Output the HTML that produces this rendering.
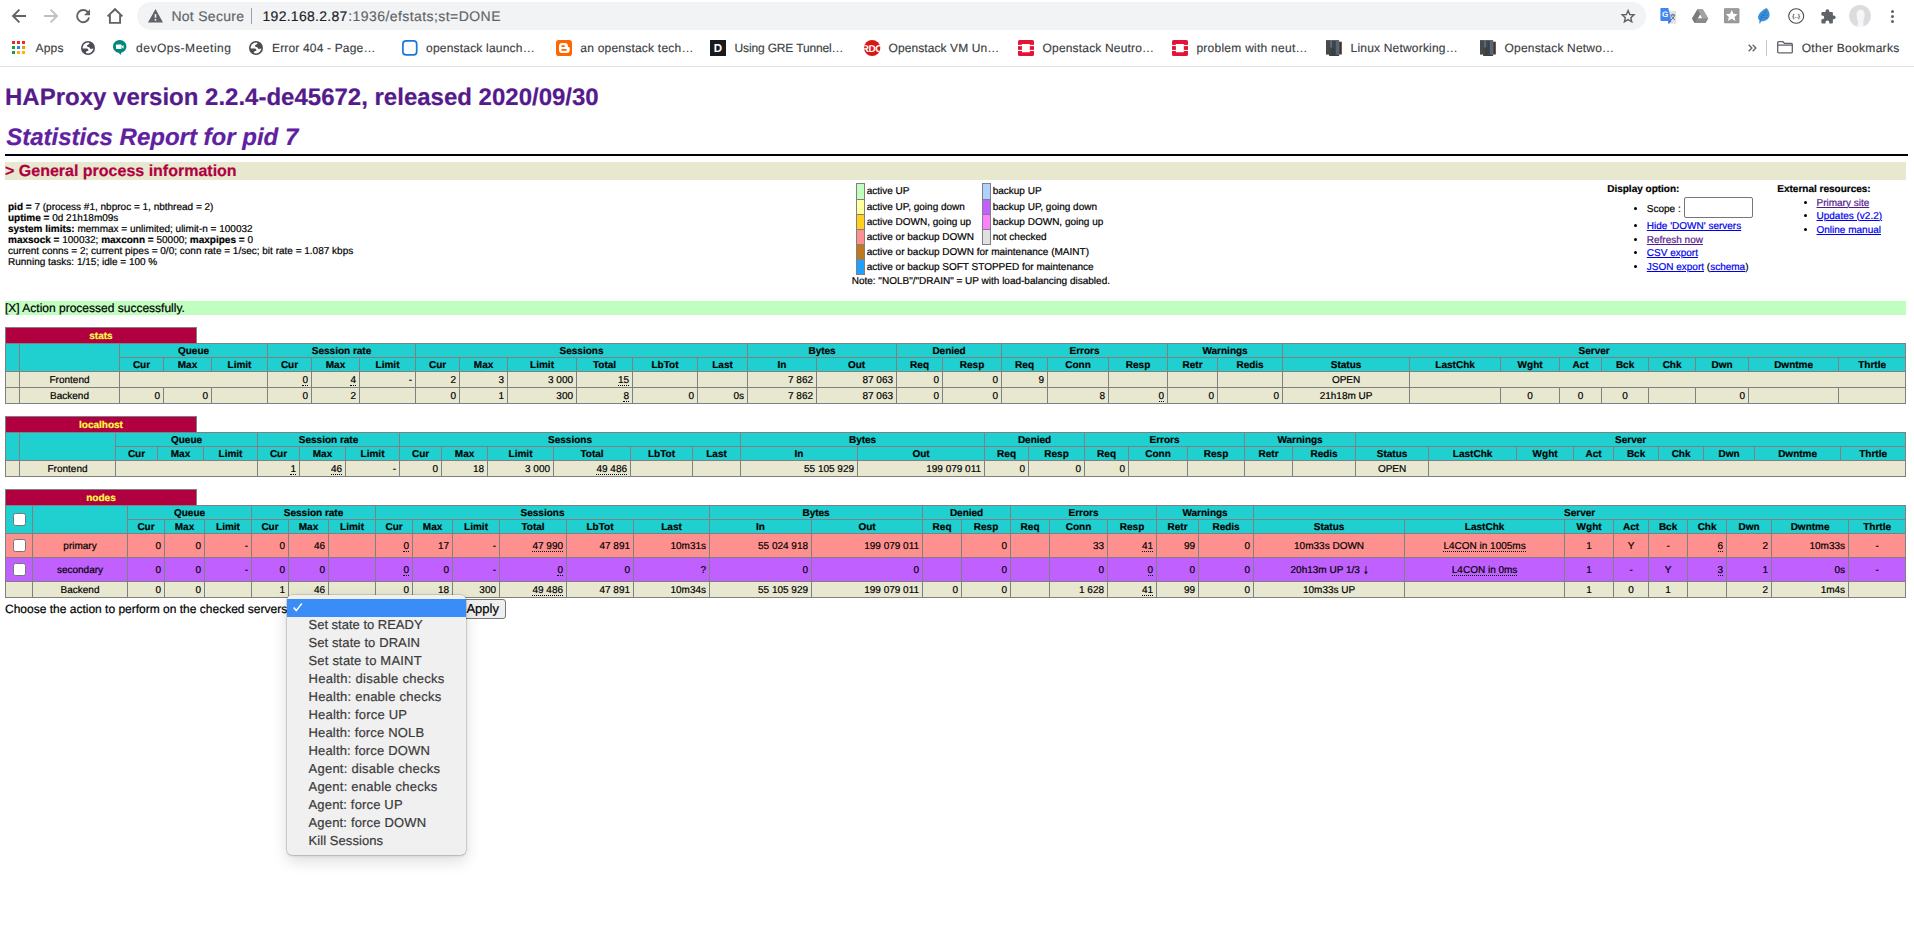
<!DOCTYPE html>
<html lang="en"><head><meta charset="utf-8"><title>Statistics Report for HAProxy</title>
<style>
html,body{margin:0;padding:0;background:#fff;}
body{font-family:'Liberation Sans',sans-serif;font-size:12px;color:#000;text-rendering:geometricPrecision;}
#root{position:relative;width:1914px;height:925px;overflow:hidden;background:#fff;-webkit-text-stroke:0.2px currentColor;}
.abs{position:absolute;white-space:pre;}
svg{position:absolute;display:block;overflow:visible;}
/* chrome */
#chrome{position:absolute;left:0;top:0;width:1914px;height:66px;background:#fff;border-bottom:1px solid #dfe1e5;}
#pill{position:absolute;left:137px;top:2px;width:1509px;height:28px;border-radius:14px;background:#f1f3f4;}
.bm{position:absolute;top:41px;height:14px;line-height:14px;font-size:12px;color:#3c4043;white-space:pre;-webkit-text-stroke:0.15px #3c4043;}
.url{position:absolute;top:8px;height:16px;line-height:16px;font-size:14px;white-space:pre;}
/* page */
h1,h2,h3{margin:0;padding:0;}
#h1{position:absolute;left:5px;top:84px;font-size:24px;line-height:28px;font-weight:bold;color:#551a8b;white-space:pre;}
#h2{position:absolute;left:6.2px;top:124px;font-size:24px;line-height:28px;font-weight:bold;font-style:italic;color:#6020a0;white-space:pre;}
#hr{position:absolute;left:5px;top:154px;width:1903px;height:2px;background:#000;}
#h3{position:absolute;left:5px;top:162px;width:1901px;height:18px;line-height:20px;font-size:16px;font-weight:bold;color:#b00040;background:#e8e8d0;white-space:pre;}
#info{position:absolute;left:8px;top:201.6px;font-size:10px;line-height:11px;white-space:pre;}
#done{position:absolute;left:5px;top:301px;width:1901px;height:14px;line-height:14px;font-size:12px;background:#c0ffc0;white-space:pre;}
a{color:#0000ee;text-decoration:underline;}
a.v{color:#551a8b;}
/* legend */
table.lgd{position:absolute;border-collapse:collapse;border-style:none;font-size:10px;}
table.lgd td{border:1px solid gray;padding:0;height:14px;line-height:11px;}
table.lgd td.sw{width:7px;}
table.lgd td.nb{border-style:none;padding:0 2px 1px 1.7px;white-space:nowrap;}
.small{font-size:10px;line-height:11px;position:absolute;white-space:pre;}
ul.opt{position:absolute;margin:0;padding:0;list-style:none;font-size:10px;}
ul.opt li{position:absolute;white-space:pre;line-height:11px;}
ul.opt li::before{content:"";position:absolute;left:-13px;top:3px;width:3.4px;height:3.4px;border-radius:50%;background:#000;}
#scope{position:absolute;left:1684px;top:197px;width:67px;height:19px;border:1px solid #767676;border-radius:2px;background:#fff;box-sizing:content-box;}
/* tables */
table.tbl{position:absolute;left:5px;width:1901px;border-collapse:collapse;border-style:none;table-layout:fixed;font-size:10px;}
table.tbl td,table.tbl th{border:1px solid gray;font-size:10px;line-height:11px;overflow:hidden;white-space:nowrap;}
table.tbl td{text-align:right;padding:2px 3px 0 3px;}
table.tbl td.ac{text-align:center;}
table.tbl th{padding:2px 0 0 0;text-align:center;font-weight:bold;}
tr.titre{background:#20d0d0;color:#000;}
tr.frontend,tr.backend{background:#e8e8d0;}
tr.active_down{background:#ff9090;}
tr.backup_going_down{background:#c060ff;}
.pxname{position:absolute;left:5px;width:190px;height:16px;border:1px solid gray;border-bottom:none;background:#b00040;color:#ffff40;font-weight:bold;font-size:10px;line-height:18px;text-align:center;}
u{text-decoration:none;position:relative;}
u::after{content:"";position:absolute;left:0;right:0;bottom:0;border-bottom:1px dotted #000;}
.cb{display:inline-block;width:11px;height:11px;border:1px solid #767676;border-radius:2.5px;background:#fff;vertical-align:middle;position:relative;top:-1px;}
/* popup */
#popup{position:absolute;left:287px;top:595px;width:179px;height:260px;background:#f0f0f0;border-radius:5px;box-shadow:0 0 0 0.5px rgba(0,0,0,.22),0 6px 16px rgba(0,0,0,.14),0 1px 3px rgba(0,0,0,.12);}
#popup .sel{position:absolute;left:0;top:4px;width:179px;height:18px;background:#3a8df6;}
#popup .it{position:absolute;left:21.5px;height:18px;line-height:18px;font-size:13px;color:#3a3a3a;white-space:pre;-webkit-text-stroke:0.2px #3a3a3a;}
#apply{position:absolute;left:461px;top:598.5px;width:43px;height:18px;border:1px solid #767676;border-radius:3px;background:#efefef;font-size:13px;line-height:17px;}
#choose{position:absolute;left:5px;top:602px;font-size:12px;line-height:14px;white-space:pre;}
.arr{font-family:"DejaVu Sans",sans-serif;font-size:11px;line-height:0;display:inline-block;width:5px;transform:scaleX(.62);transform-origin:0 50%;position:relative;top:1px;}

</style></head>
<body>
<div id="root">
<div id="chrome">
<div id="pill"></div>
<svg style="left:11px;top:8px" width="16" height="16" viewBox="0 0 16 16"><path d="M15 8H2.2M8.4 1.6L2 8l6.4 6.4" fill="none" stroke="#5f6368" stroke-width="1.9" stroke-linejoin="miter"/></svg>
<svg style="left:43px;top:8px" width="16" height="16" viewBox="0 0 16 16"><path d="M1 8h12.8M7.6 1.6L14 8l-6.4 6.4" fill="none" stroke="#bdc1c6" stroke-width="1.9"/></svg>
<svg style="left:75px;top:8px" width="16" height="16" viewBox="0 0 16 16"><path d="M13.2 4.6A6.1 6.1 0 1 0 14.1 9.6" fill="none" stroke="#5f6368" stroke-width="1.9"/><path d="M15 1.2v6H9z" fill="#5f6368"/></svg>
<svg style="left:107px;top:8px" width="16" height="16" viewBox="0 0 16 16"><path d="M0.6 8.4L8 1.2l7.4 7.2M2.9 7v7.9h10.2V7" fill="none" stroke="#5f6368" stroke-width="1.9" stroke-linejoin="miter"/></svg>
<svg style="left:147.5px;top:9px" width="15" height="13.4" viewBox="0 0 15 13.4"><path d="M7.5 0L15 13.4H0z" fill="#5f6368"/><rect x="6.7" y="5" width="1.6" height="3.8" fill="#f1f3f4"/><rect x="6.7" y="10" width="1.6" height="1.7" fill="#f1f3f4"/></svg>
<span class="url" style="left:171.4px;color:#5f6368;-webkit-text-stroke:0.15px #5f6368;letter-spacing:0.284px">Not Secure</span>
<div class="abs" style="left:251px;top:8px;width:1px;height:16px;background:#9aa0a6"></div>
<span class="url" style="left:262.5px;color:#202124;-webkit-text-stroke:0.15px #202124;letter-spacing:0.277px">192.168.2.87</span>
<span class="url" style="left:348.2px;color:#5f6368;-webkit-text-stroke:0.15px #5f6368;letter-spacing:0.436px">:1936/efstats;st=DONE</span>
<svg style="left:1620.800px;top:8.800px" width="14.200" height="13.600" viewBox="0 0 15 14.4"><path d="M7.5 1.6l1.8 4.2 4.5.4-3.4 3 1 4.4-3.9-2.4-3.9 2.4 1-4.4-3.4-3 4.5-.4z" fill="none" stroke="#5f6368" stroke-width="1.5" stroke-linejoin="miter"/></svg>
<svg style="left:1659.500px;top:8px" width="16.500" height="16" viewBox="0 0 16.500 16"><rect x="8" y="2.800" width="8.200" height="13" rx=".6" fill="#e1e3e6"/><path d="M10.600 7h4.600M12.900 5.800V7M11.300 7.200c.4 2 1.700 3.500 3.500 4.500M14.500 7.200c-.5 2.200-1.800 3.800-3.700 4.800" stroke="#4f6f86" stroke-width="1" fill="none"/><path d="M.4.800C.4.400.7 0 1.100 0h7.200l3.100 13H1.100c-.4 0-.7-.3-.7-.7z" fill="#4285f4"/><path d="M8.300 13h3.100l-3 3z" fill="#3457c4"/><text x="2.100" y="9.400" font-family="Liberation Sans, sans-serif" font-size="8" font-weight="bold" fill="#fff">G</text></svg>
<svg style="left:1691.700px;top:9px" width="16.300" height="14.300" viewBox="0 0 17 14.5"><path d="M5.800 0h5.400l5.800 9.800-2.700 4.700H2.700L0 9.800z" fill="#8a8a8a"/><path d="M5.800 0L0 9.800l2.700 4.700L8.500 4.700z" fill="#7b7b7b"/><path d="M11.200 0l5.800 9.800h-5.500L5.800 0z" fill="#a3a3a3"/><path d="M8.500 5.600l2.200 3.800H6.300z" fill="#fff"/></svg>
<svg style="left:1724px;top:8px" width="15.400" height="15.400" viewBox="0 0 16 15.6"><rect width="16" height="15.600" rx="1" fill="#8b8b8b"/><rect x=".5" y=".5" width="15" height="14.600" rx=".8" fill="#9b9b9b"/><path d="M8 1.800l1.800 4 4.300.4-3.200 2.900 1 4.200L8 11.100l-3.900 2.200 1-4.200L1.900 6.200l4.300-.4z" fill="#fff"/></svg>
<svg style="left:1757px;top:8px" width="13" height="16" viewBox="0 0 13 16"><path d="M9.500 0C11.500 1.500 13 5 12.600 7.600 12.200 10.500 9.500 13 6 13.200L4.300 13.300 3 15.400 2.100 15.100 2.700 12.700C.8 11.400.6 9 1.600 7 3 4 6.500 1.500 9.500 0z" fill="#3b90d8"/><path d="M9.300 2.300C6.500 5.500 4.300 9 3 13.200M9.600 4.300L7.400 5.200M10.700 6.900L6.100 7.500M10.300 9.600L4.800 9.800M4.600 5.800L6 7.400M3 8.400L4.700 9.900" stroke="#1d6db5" stroke-width=".7" fill="none" opacity=".8"/></svg>
<svg style="left:1788px;top:8px" width="16.400" height="16" viewBox="0 0 16.4 16"><ellipse cx="8.200" cy="8" rx="7.500" ry="7.300" fill="#fff" stroke="#4a4a4a" stroke-width="1.100"/><text x="8.200" y="10.100" text-anchor="middle" font-family="Liberation Sans, sans-serif" font-size="5.800" font-weight="bold" fill="#4a4a4a">{..}</text></svg>
<svg style="left:1820.500px;top:8.500px" width="15" height="15" viewBox="0 0 15 15"><path d="M1.400 3.100H4.500V2.200a1.900 1.900 0 0 1 3.800 0V3.100H10.900a1 1 0 0 1 1 1V6.400h.9a1.900 1.900 0 0 1 0 3.800h-.9V13.400a1 1 0 0 1-1 1H8.300v-.9a1.900 1.900 0 0 0-3.800 0v.9H1.400a1 1 0 0 1-1-1V10.200h.9a1.900 1.900 0 0 0 0-3.800H.4V4.100a1 1 0 0 1 1-1z" fill="#5f6368"/></svg>
<svg style="left:1849px;top:5px" width="22" height="22" viewBox="0 0 22 22"><circle cx="11" cy="11" r="10.900" fill="#dcdcdc"/><path d="M11.500 4.500c2.600 0 4.100 2 4.100 5.200 0 2.700-.9 4.800-1.300 6.600l.3 5.200c-1.100.4-2.300.5-3.600.5-1 0-1.900-.1-2.800-.4l.9-4.600c-.6-1.900-1.500-4.200-1.500-6.900 0-3.400 1.500-5.600 3.900-5.600z" fill="#f4f6f9"/></svg>
<div class="abs" style="left:1891px;top:10.0px;width:3px;height:3px;border-radius:50%;background:#5f6368"></div>
<div class="abs" style="left:1891px;top:15.0px;width:3px;height:3px;border-radius:50%;background:#5f6368"></div>
<div class="abs" style="left:1891px;top:20.0px;width:3px;height:3px;border-radius:50%;background:#5f6368"></div>
<svg style="left:12px;top:41px" width="13" height="13" viewBox="0 0 13 13"><rect x="0" y="0" width="3" height="3" fill="#ea2b22"/><rect x="5" y="0" width="3" height="3" fill="#ea2b22"/><rect x="10" y="0" width="3" height="3" fill="#ea2b22"/><rect x="0" y="5" width="3" height="3" fill="#1e9b42"/><rect x="5" y="5" width="3" height="3" fill="#2b84f3"/><rect x="10" y="5" width="3" height="3" fill="#f19c0b"/><rect x="0" y="10" width="3" height="3" fill="#1e9b42"/><rect x="5" y="10" width="3" height="3" fill="#fbb307"/><rect x="10" y="10" width="3" height="3" fill="#fbb307"/></svg>
<span class="bm" style="left:35.5px;letter-spacing:0.214px">Apps</span>
<svg style="left:81px;top:41px" width="14" height="14" viewBox="0 0 14 14"><defs><clipPath id="g81"><circle cx="7" cy="7" r="6.2"/></clipPath></defs><circle cx="7" cy="7" r="7" fill="#4a4d52"/><circle cx="7" cy="7" r="5.400" fill="#fff"/><g clip-path="url(#g81)" fill="#4a4d52"><path d="M5.900 5c.1-1 .8-1.300 1.500-1.500.8-.3 1-1 1.200-2.300l5 .5.400 5.300-2 .6c-.8.300-1.300.6-2.200.4-.8-.2-.6-1-1.300-1.500-.8-.5-1.700-.4-2.600-1.500z"/><path d="M0 7.500h5.600c.7 0 1.800.7 1.900 1.400.1.800-.8.900-1.400 1.200-.8.400-1 .9-1.200 1.500-.1.500-.1.900.1 1.400L0 13z"/></g></svg>
<svg style="left:113.400px;top:40.400px" width="13.400" height="15" viewBox="0 0 13.4 15"><path d="M6.700 0a6.500 6.500 0 0 1 6.700 6.400c0 3.400-2.600 5.900-5.300 6.300V15L5.200 12.600C2.300 12 0 9.600 0 6.400A6.500 6.500 0 0 1 6.700 0z" fill="#00897b"/><rect x="3" y="4.600" width="5.600" height="4.400" rx=".7" fill="#fff"/><path d="M8.800 6.400l1.800-1.500v3.800l-1.800-1.500z" fill="#fff"/></svg>
<span class="bm" style="left:136px;letter-spacing:0.535px">devOps-Meeting</span>
<svg style="left:249px;top:41px" width="14" height="14" viewBox="0 0 14 14"><defs><clipPath id="g249"><circle cx="7" cy="7" r="6.2"/></clipPath></defs><circle cx="7" cy="7" r="7" fill="#4a4d52"/><circle cx="7" cy="7" r="5.400" fill="#fff"/><g clip-path="url(#g249)" fill="#4a4d52"><path d="M5.900 5c.1-1 .8-1.300 1.500-1.500.8-.3 1-1 1.200-2.300l5 .5.400 5.300-2 .6c-.8.300-1.300.6-2.200.4-.8-.2-.6-1-1.300-1.500-.8-.5-1.700-.4-2.600-1.500z"/><path d="M0 7.500h5.600c.7 0 1.800.7 1.900 1.400.1.800-.8.900-1.400 1.200-.8.400-1 .9-1.200 1.500-.1.500-.1.900.1 1.400L0 13z"/></g></svg>
<span class="bm" style="left:272px;letter-spacing:0.168px">Error 404 - Page…</span>
<svg style="left:402.200px;top:40px" width="15.600" height="15.800" viewBox="0 0 15.6 15.8"><rect x=".9" y=".9" width="13.800" height="14" rx="3.200" fill="#fff" stroke="#1b74e0" stroke-width="1.700"/></svg>
<span class="bm" style="left:426px;letter-spacing:0.206px">openstack launch…</span>
<svg style="left:556px;top:40px" width="16" height="16" viewBox="0 0 16 16"><rect width="16" height="16" rx="2.800" fill="#ff6600"/><path d="M3 6.200a3.200 3.200 0 0 1 3.200-3.200h2.600a3.200 3.200 0 0 1 3.200 3v.4c0 .4.300.6.700.6h.3c.4 0 .7.300.7.700v2.100a3.200 3.200 0 0 1-3.200 3.200H6.200a3.200 3.200 0 0 1-3.200-3.200z" fill="#fff"/><rect x="5.200" y="5.200" width="3.800" height="1.700" rx=".85" fill="#ff6600"/><rect x="5.200" y="9.100" width="5.700" height="1.700" rx=".85" fill="#ff6600"/></svg>
<span class="bm" style="left:580.3px;letter-spacing:0.217px">an openstack tech…</span>
<svg style="left:710px;top:40px" width="16" height="16" viewBox="0 0 16 16"><rect width="16" height="16" fill="#1a1a1a"/><text x="8" y="12.300" text-anchor="middle" font-family="Liberation Sans, sans-serif" font-size="11.500" font-weight="bold" fill="#fff">D</text></svg>
<span class="bm" style="left:734.6px;letter-spacing:-0.156px">Using GRE Tunnel…</span>
<svg style="left:863.500px;top:40px" width="16.300" height="16" viewBox="0 0 16.3 16"><defs><clipPath id="rc"><ellipse cx="8.150" cy="8" rx="8.150" ry="8"/></clipPath></defs><ellipse cx="8.150" cy="8" rx="8.150" ry="8" fill="#d81717"/><text x="8.150" y="11.600" text-anchor="middle" clip-path="url(#rc)" font-family="Liberation Sans, sans-serif" font-size="10" font-weight="bold" fill="#fff" letter-spacing="-.4">RDO</text></svg>
<span class="bm" style="left:888.6px;letter-spacing:0.082px">Openstack VM Un…</span>
<svg style="left:1018px;top:40px" width="16" height="16" viewBox="0 0 16 16"><rect width="16" height="16" rx="1.600" fill="#e41436"/><rect x="3.900" y="3.900" width="7.900" height="8.300" rx=".5" fill="#fff"/><rect x="0" y="4.900" width="16" height="1.200" fill="#fff"/><rect x="0" y="9.900" width="16" height="1.100" fill="#fff"/></svg>
<span class="bm" style="left:1042.6px;letter-spacing:0.168px">Openstack Neutro…</span>
<svg style="left:1172px;top:40px" width="16" height="16" viewBox="0 0 16 16"><rect width="16" height="16" rx="1.600" fill="#e41436"/><rect x="3.900" y="3.900" width="7.900" height="8.300" rx=".5" fill="#fff"/><rect x="0" y="4.900" width="16" height="1.200" fill="#fff"/><rect x="0" y="9.900" width="16" height="1.100" fill="#fff"/></svg>
<span class="bm" style="left:1196.4px;letter-spacing:0.258px">problem with neut…</span>
<svg style="left:1326px;top:40px" width="16" height="16" viewBox="0 0 16 16"><rect x="0" y=".1" width="4.800" height="14.500" fill="#464b49"/><rect x="4.800" y=".2" width="8.300" height="15.800" fill="#3d3f40"/><rect x="3.100" y="7.600" width="1.900" height="8.400" fill="#3f4a41"/><rect x="4.800" y=".3" width="1.300" height="7.200" fill="#4a6e8c"/><rect x="6.600" y="1.200" width="1.100" height="6.300" fill="#5a4546"/><rect x="9.700" y=".8" width="2.400" height="14" fill="#4a6880"/><rect x="12.100" y="1" width="1" height="14" fill="#666c70"/><rect x="13.100" y="1.700" width="2.700" height="12.800" fill="#4a3033"/></svg>
<span class="bm" style="left:1350.6px;letter-spacing:0.191px">Linux Networking…</span>
<svg style="left:1480.3px;top:40px" width="16" height="16" viewBox="0 0 16 16"><rect x="0" y=".1" width="4.800" height="14.500" fill="#464b49"/><rect x="4.800" y=".2" width="8.300" height="15.800" fill="#3d3f40"/><rect x="3.100" y="7.600" width="1.900" height="8.400" fill="#3f4a41"/><rect x="4.800" y=".3" width="1.300" height="7.200" fill="#4a6e8c"/><rect x="6.600" y="1.200" width="1.100" height="6.300" fill="#5a4546"/><rect x="9.700" y=".8" width="2.400" height="14" fill="#4a6880"/><rect x="12.100" y="1" width="1" height="14" fill="#666c70"/><rect x="13.100" y="1.700" width="2.700" height="12.800" fill="#4a3033"/></svg>
<span class="bm" style="left:1504.6px;letter-spacing:0.179px">Openstack Netwo…</span>
<svg style="left:1747.800px;top:44px" width="8.600" height="8" viewBox="0 0 8.6 8"><path d="M.7.700L3.900 4 .7 7.300M4.700.7L7.900 4 4.700 7.300" fill="none" stroke="#5f6368" stroke-width="1.300"/></svg>
<div class="abs" style="left:1766px;top:40px;width:1px;height:16px;background:#c4c7cc"></div>
<svg style="left:1777px;top:41.300px" width="16" height="12.600" viewBox="0 0 16 12.6"><path d="M.7 1.600c0-.5.400-.9.900-.9h4.300l1.600 1.700h6.900c.5 0 .9.400.9.900v7.700c0 .5-.4.900-.9.900H1.600c-.5 0-.9-.4-.9-.9z" fill="#fff" stroke="#5f6368" stroke-width="1.300"/><path d="M.7 4.100h14.600" stroke="#5f6368" stroke-width="1.300"/></svg>
<span class="bm" style="left:1801.7px;letter-spacing:0.295px">Other Bookmarks</span>
</div><h1 id="h1">HAProxy version 2.2.4-de45672, released 2020/09/30</h1>
<h2 id="h2">Statistics Report for pid 7</h2>
<div id="hr"></div>
<h3 id="h3">&gt; General process information</h3>
<div id="info"><b>pid = </b>7 (process #1, nbproc = 1, nbthread = 2)
<b>uptime = </b>0d 21h18m09s
<b>system limits:</b> memmax = unlimited; ulimit-n = 100032
<b>maxsock = </b>100032; <b>maxconn = </b>50000; <b>maxpipes = </b>0
current conns = 2; current pipes = 0/0; conn rate = 1/sec; bit rate = 1.087 kbps
Running tasks: 1/15; idle = 100 %</div>
<table class="lgd" style="left:856px;top:183px"><tr><td class="sw" style="background:#c0ffc0;height:15px"></td><td class="nb">active UP</td></tr><tr><td class="sw" style="background:#ffffa0;height:14px"></td><td class="nb" style="padding:1px 2px 0 1.7px">active UP, going down</td></tr><tr><td class="sw" style="background:#ffd020;height:14px"></td><td class="nb" style="padding:1px 2px 0 1.7px">active DOWN, going up</td></tr><tr><td class="sw" style="background:#ff9090;height:14px"></td><td class="nb" style="padding:1px 2px 0 1.7px">active or backup DOWN</td></tr><tr><td class="sw" style="background:#c07820;height:14px"></td><td class="nb" style="padding:1px 2px 0 1.7px">active or backup DOWN for maintenance (MAINT)</td></tr><tr><td class="sw" style="background:#20a0ff;height:14px"></td><td class="nb" style="padding:1px 2px 0 1.7px">active or backup SOFT STOPPED for maintenance</td></tr></table>
<table class="lgd" style="left:982px;top:183px"><tr><td class="sw" style="background:#b0d0ff;height:15px"></td><td class="nb">backup UP</td></tr><tr><td class="sw" style="background:#c060ff;height:14px"></td><td class="nb" style="padding:1px 2px 0 1.7px">backup UP, going down</td></tr><tr><td class="sw" style="background:#ff80ff;height:14px"></td><td class="nb" style="padding:1px 2px 0 1.7px">backup DOWN, going up</td></tr><tr><td class="sw" style="background:#e0e0e0;height:14px"></td><td class="nb" style="padding:1px 2px 0 1.7px">not checked</td></tr></table>
<div class="small" style="left:851.700px;top:275.500px">Note: "NOLB"/"DRAIN" = UP with load-balancing disabled.</div>
<div class="small" style="left:1607.200px;top:183.5px"><b>Display option:</b></div>
<ul class="opt" style="left:1646.800px;top:0"><li style="top:203.5px">Scope :</li><li style="top:220.5px"><a>Hide 'DOWN' servers</a></li><li style="top:234.5px"><a class="v">Refresh now</a></li><li style="top:247.5px"><a>CSV export</a></li><li style="top:261.5px"><a>JSON export</a> (<a>schema</a>)</li></ul>
<div id="scope"></div>
<div class="small" style="left:1777.300px;top:183.5px"><b>External resources:</b></div>
<ul class="opt" style="left:1816.500px;top:0"><li style="top:197.5px"><a class="v">Primary site</a></li><li style="top:210.5px"><a>Updates (v2.2)</a></li><li style="top:224.5px"><a>Online manual</a></li></ul>
<div id="done">[X] Action processed successfully.</div><div class="pxname" style="top:327px">stats</div>
<table class="tbl" style="top:343px"><colgroup>
<col style="width:14px">
<col style="width:100px">
<col style="width:44px">
<col style="width:48px">
<col style="width:56px">
<col style="width:44px">
<col style="width:48px">
<col style="width:56px">
<col style="width:44px">
<col style="width:48px">
<col style="width:69px">
<col style="width:56px">
<col style="width:65px">
<col style="width:50px">
<col style="width:69px">
<col style="width:80px">
<col style="width:46px">
<col style="width:59px">
<col style="width:46px">
<col style="width:61px">
<col style="width:59px">
<col style="width:50px">
<col style="width:65px">
<col style="width:127px">
<col style="width:91px">
<col style="width:59px">
<col style="width:42px">
<col style="width:47px">
<col style="width:47px">
<col style="width:53px">
<col style="width:90px">
<col style="width:67px">
</colgroup>
<tr class="titre" style="height:14px"><th rowspan="2"></th><th rowspan="2"></th>
<th colspan="3">Queue</th>
<th colspan="3">Session rate</th>
<th colspan="6">Sessions</th>
<th colspan="2">Bytes</th>
<th colspan="2">Denied</th>
<th colspan="3">Errors</th>
<th colspan="2">Warnings</th>
<th colspan="9">Server</th>
</tr><tr class="titre" style="height:14px">
<th>Cur</th>
<th>Max</th>
<th>Limit</th>
<th>Cur</th>
<th>Max</th>
<th>Limit</th>
<th>Cur</th>
<th>Max</th>
<th>Limit</th>
<th>Total</th>
<th>LbTot</th>
<th>Last</th>
<th>In</th>
<th>Out</th>
<th>Req</th>
<th>Resp</th>
<th>Req</th>
<th>Conn</th>
<th>Resp</th>
<th>Retr</th>
<th>Redis</th>
<th>Status</th>
<th>LastChk</th>
<th>Wght</th>
<th>Act</th>
<th>Bck</th>
<th>Chk</th>
<th>Dwn</th>
<th>Dwntme</th>
<th>Thrtle</th>
</tr>
<tr class="frontend" style="height:16px">
<td></td>
<td class="ac">Frontend</td>
<td colspan="3"></td>
<td><u>0</u></td>
<td><u>4</u></td>
<td>-</td>
<td>2</td>
<td>3</td>
<td>3 000</td>
<td><u>15</u></td>
<td></td>
<td></td>
<td>7 862</td>
<td>87 063</td>
<td>0</td>
<td>0</td>
<td>9</td>
<td></td>
<td></td>
<td></td>
<td></td>
<td class="ac">OPEN</td>
<td colspan="8"></td>
</tr>
<tr class="backend" style="height:16px">
<td></td>
<td class="ac">Backend</td>
<td>0</td>
<td>0</td>
<td></td>
<td>0</td>
<td>2</td>
<td></td>
<td>0</td>
<td>1</td>
<td>300</td>
<td><u>8</u></td>
<td>0</td>
<td>0s</td>
<td>7 862</td>
<td>87 063</td>
<td>0</td>
<td>0</td>
<td></td>
<td>8</td>
<td><u>0</u></td>
<td>0</td>
<td>0</td>
<td class="ac">21h18m UP</td>
<td></td>
<td class="ac">0</td>
<td class="ac">0</td>
<td class="ac">0</td>
<td></td>
<td>0</td>
<td></td>
<td></td>
</tr>
</table><div class="pxname" style="top:416px">localhost</div>
<table class="tbl" style="top:432px"><colgroup>
<col style="width:14px">
<col style="width:96px">
<col style="width:42px">
<col style="width:46px">
<col style="width:54px">
<col style="width:42px">
<col style="width:46px">
<col style="width:54px">
<col style="width:42px">
<col style="width:46px">
<col style="width:66px">
<col style="width:77px">
<col style="width:62px">
<col style="width:48px">
<col style="width:117px">
<col style="width:127px">
<col style="width:44px">
<col style="width:56px">
<col style="width:44px">
<col style="width:59px">
<col style="width:57px">
<col style="width:48px">
<col style="width:63px">
<col style="width:73px">
<col style="width:88px">
<col style="width:57px">
<col style="width:40px">
<col style="width:45px">
<col style="width:45px">
<col style="width:51px">
<col style="width:86px">
<col style="width:65px">
</colgroup>
<tr class="titre" style="height:14px"><th rowspan="2"></th><th rowspan="2"></th>
<th colspan="3">Queue</th>
<th colspan="3">Session rate</th>
<th colspan="6">Sessions</th>
<th colspan="2">Bytes</th>
<th colspan="2">Denied</th>
<th colspan="3">Errors</th>
<th colspan="2">Warnings</th>
<th colspan="9">Server</th>
</tr><tr class="titre" style="height:14px">
<th>Cur</th>
<th>Max</th>
<th>Limit</th>
<th>Cur</th>
<th>Max</th>
<th>Limit</th>
<th>Cur</th>
<th>Max</th>
<th>Limit</th>
<th>Total</th>
<th>LbTot</th>
<th>Last</th>
<th>In</th>
<th>Out</th>
<th>Req</th>
<th>Resp</th>
<th>Req</th>
<th>Conn</th>
<th>Resp</th>
<th>Retr</th>
<th>Redis</th>
<th>Status</th>
<th>LastChk</th>
<th>Wght</th>
<th>Act</th>
<th>Bck</th>
<th>Chk</th>
<th>Dwn</th>
<th>Dwntme</th>
<th>Thrtle</th>
</tr>
<tr class="frontend" style="height:16px">
<td></td>
<td class="ac">Frontend</td>
<td colspan="3"></td>
<td><u>1</u></td>
<td><u>46</u></td>
<td>-</td>
<td>0</td>
<td>18</td>
<td>3 000</td>
<td><u>49 486</u></td>
<td></td>
<td></td>
<td>55 105 929</td>
<td>199 079 011</td>
<td>0</td>
<td>0</td>
<td>0</td>
<td></td>
<td></td>
<td></td>
<td></td>
<td class="ac">OPEN</td>
<td colspan="8"></td>
</tr>
</table><div class="pxname" style="top:489px">nodes</div>
<table class="tbl" style="top:505px"><colgroup>
<col style="width:27px">
<col style="width:95px">
<col style="width:37px">
<col style="width:40px">
<col style="width:47px">
<col style="width:37px">
<col style="width:40px">
<col style="width:47px">
<col style="width:37px">
<col style="width:40px">
<col style="width:47px">
<col style="width:67px">
<col style="width:67px">
<col style="width:76px">
<col style="width:102px">
<col style="width:111px">
<col style="width:39px">
<col style="width:49px">
<col style="width:39px">
<col style="width:58px">
<col style="width:49px">
<col style="width:42px">
<col style="width:55px">
<col style="width:151px">
<col style="width:160px">
<col style="width:49px">
<col style="width:35px">
<col style="width:39px">
<col style="width:39px">
<col style="width:45px">
<col style="width:77px">
<col style="width:57px">
</colgroup>
<tr class="titre" style="height:14px"><th rowspan="2"><span class="cb"></span></th><th rowspan="2"></th>
<th colspan="3">Queue</th>
<th colspan="3">Session rate</th>
<th colspan="6">Sessions</th>
<th colspan="2">Bytes</th>
<th colspan="2">Denied</th>
<th colspan="3">Errors</th>
<th colspan="2">Warnings</th>
<th colspan="9">Server</th>
</tr><tr class="titre" style="height:14px">
<th>Cur</th>
<th>Max</th>
<th>Limit</th>
<th>Cur</th>
<th>Max</th>
<th>Limit</th>
<th>Cur</th>
<th>Max</th>
<th>Limit</th>
<th>Total</th>
<th>LbTot</th>
<th>Last</th>
<th>In</th>
<th>Out</th>
<th>Req</th>
<th>Resp</th>
<th>Req</th>
<th>Conn</th>
<th>Resp</th>
<th>Retr</th>
<th>Redis</th>
<th>Status</th>
<th>LastChk</th>
<th>Wght</th>
<th>Act</th>
<th>Bck</th>
<th>Chk</th>
<th>Dwn</th>
<th>Dwntme</th>
<th>Thrtle</th>
</tr>
<tr class="active_down" style="height:24px">
<td class="ac"><span class="cb"></span></td>
<td class="ac">primary</td>
<td>0</td>
<td>0</td>
<td>-</td>
<td>0</td>
<td>46</td>
<td></td>
<td><u>0</u></td>
<td>17</td>
<td>-</td>
<td><u>47 990</u></td>
<td>47 891</td>
<td>10m31s</td>
<td>55 024 918</td>
<td>199 079 011</td>
<td></td>
<td>0</td>
<td></td>
<td>33</td>
<td><u>41</u></td>
<td>99</td>
<td>0</td>
<td class="ac">10m33s DOWN</td>
<td class="ac"><u>L4CON in 1005ms</u></td>
<td class="ac">1</td>
<td class="ac">Y</td>
<td class="ac">-</td>
<td><u>6</u></td>
<td>2</td>
<td>10m33s</td>
<td class="ac">-</td>
</tr>
<tr class="backup_going_down" style="height:24px">
<td class="ac"><span class="cb"></span></td>
<td class="ac">secondary</td>
<td>0</td>
<td>0</td>
<td>-</td>
<td>0</td>
<td>0</td>
<td></td>
<td><u>0</u></td>
<td>0</td>
<td>-</td>
<td><u>0</u></td>
<td>0</td>
<td>?</td>
<td>0</td>
<td>0</td>
<td></td>
<td>0</td>
<td></td>
<td>0</td>
<td><u>0</u></td>
<td>0</td>
<td>0</td>
<td class="ac">20h13m UP 1/3 <span class="arr">↓</span></td>
<td class="ac"><u>L4CON in 0ms</u></td>
<td class="ac">1</td>
<td class="ac">-</td>
<td class="ac">Y</td>
<td><u>3</u></td>
<td>1</td>
<td>0s</td>
<td class="ac">-</td>
</tr>
<tr class="backend" style="height:16px">
<td></td>
<td class="ac">Backend</td>
<td>0</td>
<td>0</td>
<td></td>
<td>1</td>
<td>46</td>
<td></td>
<td>0</td>
<td>18</td>
<td>300</td>
<td><u>49 486</u></td>
<td>47 891</td>
<td>10m34s</td>
<td>55 105 929</td>
<td>199 079 011</td>
<td>0</td>
<td>0</td>
<td></td>
<td>1 628</td>
<td><u>41</u></td>
<td>99</td>
<td>0</td>
<td class="ac">10m33s UP</td>
<td></td>
<td class="ac">1</td>
<td class="ac">0</td>
<td class="ac">1</td>
<td></td>
<td>2</td>
<td>1m4s</td>
<td></td>
</tr>
</table><div id="choose">Choose the action to perform on the checked servers :</div>
<div id="apply"><span style="position:absolute;left:4.4px;top:0">Apply</span></div>
<div id="popup"><div class="sel"></div>
<svg style="left:6px;top:8.400px" width="9.500" height="8.400" viewBox="0 0 9.5 8.4"><path d="M.7 4.600l2.500 3L8.800.5" fill="none" stroke="#fff" stroke-width="1.500"/></svg>
<div class="it" style="top:21px;letter-spacing:-0.004px">Set state to READY</div>
<div class="it" style="top:39px;letter-spacing:0.098px">Set state to DRAIN</div>
<div class="it" style="top:57px;letter-spacing:0.192px">Set state to MAINT</div>
<div class="it" style="top:75px;letter-spacing:0.272px">Health: disable checks</div>
<div class="it" style="top:93px;letter-spacing:0.239px">Health: enable checks</div>
<div class="it" style="top:111px;letter-spacing:0.202px">Health: force UP</div>
<div class="it" style="top:129px;letter-spacing:0.169px">Health: force NOLB</div>
<div class="it" style="top:147px;letter-spacing:0.172px">Health: force DOWN</div>
<div class="it" style="top:165px;letter-spacing:0.252px">Agent: disable checks</div>
<div class="it" style="top:183px;letter-spacing:0.231px">Agent: enable checks</div>
<div class="it" style="top:201px;letter-spacing:0.166px">Agent: force UP</div>
<div class="it" style="top:219px;letter-spacing:0.170px">Agent: force DOWN</div>
<div class="it" style="top:237px;letter-spacing:0.066px">Kill Sessions</div>
</div>
</div>
</body></html>
